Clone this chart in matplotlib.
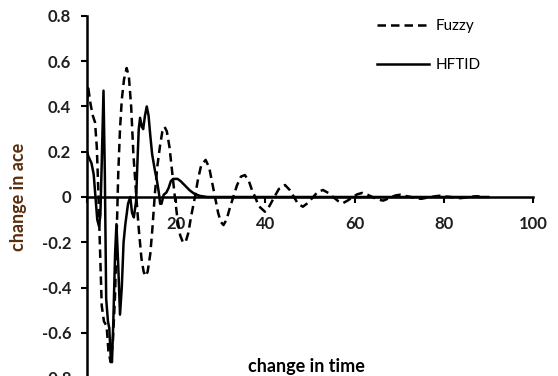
import matplotlib
matplotlib.use('Agg')
import matplotlib.pyplot as plt

# Data
fuzzy_x = [0.0, 0.3, 0.8, 1.3, 1.8, 2.2, 2.5, 2.9, 3.3, 3.8, 4.4, 4.8, 5.3, 5.8, 6.3, 6.7,
           7.0, 7.4, 7.8, 8.3, 8.9, 9.4, 9.9, 10.4, 11.1, 11.6, 12.2, 12.7, 13.1, 13.6, 14.2,
           14.7, 15.2, 15.8, 16.4, 16.9, 17.4, 17.9, 18.5, 19.1, 19.7, 20.3, 20.9, 21.5, 22.1,
           22.7, 23.4, 24.2, 24.9, 25.6, 26.6, 27.4, 28.0, 28.7, 29.4, 30.0, 30.6, 31.3, 32.0,
           32.8, 33.6, 34.5, 35.4, 36.3, 37.0, 37.7, 38.5, 39.9, 40.9, 42.0, 43.0, 44.4, 45.5,
           46.4, 47.3, 48.4, 49.6, 50.7, 51.7, 52.9, 54.1, 55.2, 56.3, 57.4, 58.5, 59.6, 60.6,
           61.7, 62.9, 64.0, 65.2, 66.4, 67.4, 68.3, 69.2, 70.2, 71.4, 72.6, 73.8, 75.0, 76.2,
           77.2, 78.3, 79.4, 80.5, 81.6, 82.7, 83.8, 85.0, 86.0, 87.0, 88.0]
fuzzy_y = [0.42, 0.48, 0.41, 0.36, 0.33, 0.22, 0.05, -0.22, -0.48, -0.55, -0.57, -0.68, -0.73,
           -0.64, -0.43, -0.13, 0.10, 0.30, 0.43, 0.52, 0.57, 0.53, 0.40, 0.19, -0.01, -0.14,
           -0.27, -0.33, -0.35, -0.33, -0.25, -0.13, 0.01, 0.14, 0.23, 0.29, 0.31, 0.29, 0.22,
           0.11, 0.0, -0.10, -0.17, -0.20, -0.20, -0.16, -0.08, 0.0, 0.08, 0.14, 0.164, 0.13,
           0.07, 0.0, -0.07, -0.11, -0.124, -0.10, -0.05, 0.0, 0.05, 0.09, 0.097, 0.07, 0.03,
           0.0, -0.04, -0.065, -0.04, 0.0, 0.035, 0.053, 0.03, 0.0, -0.03, -0.043, -0.025, 0.0,
           0.022, 0.031, 0.018, 0.0, -0.018, -0.027, -0.015, 0.0, 0.012, 0.018, 0.01, 0.0,
           -0.011, -0.016, -0.008, 0.0, 0.007, 0.01, 0.005, 0.0, -0.006, -0.008, -0.003, 0.0,
           0.004, 0.006, 0.002, 0.0, -0.004, -0.005, -0.002, 0.0, 0.003, 0.003]

hftid_x = [0.0, 0.3, 1.0, 1.5, 1.9, 2.3, 2.7, 3.0, 3.3, 3.7, 4.0, 4.3, 4.7, 5.0, 5.3, 5.6,
           5.9, 6.3, 6.6, 7.0, 7.4, 7.8, 8.2, 8.6, 9.2, 9.7, 10.1, 10.5, 11.0, 11.3, 11.6,
           11.9, 12.3, 12.6, 13.0, 13.4, 13.8, 14.2, 14.6, 15.2, 15.7, 16.1, 16.4, 16.7, 17.2,
           17.8, 18.3, 18.8, 19.3, 20.3, 21.0, 22.0, 23.0, 24.0, 25.3, 27.0, 40.0, 60.0, 90.0]
hftid_y = [0.20, 0.18, 0.15, 0.10, 0.0, -0.10, -0.13, -0.08, 0.15, 0.47, 0.10, -0.45, -0.55,
           -0.58, -0.70, -0.73, -0.55, -0.25, -0.12, -0.30, -0.52, -0.40, -0.20, -0.12, -0.03,
           0.0, -0.07, -0.09, -0.02, 0.15, 0.30, 0.35, 0.31, 0.30, 0.36, 0.40, 0.36, 0.27,
           0.19, 0.12, 0.07, 0.02, -0.03, -0.03, 0.01, 0.02, 0.04, 0.07, 0.08, 0.08, 0.07,
           0.05, 0.03, 0.015, 0.005, 0.0, 0.0, 0.0, 0.0]

x_ticks = [0, 20, 40, 60, 80, 100]
x_labels = ['0', '20', '40', '60', '80', '100']
y_ticks = [-0.8, -0.6, -0.4, -0.2, 0, 0.2, 0.4, 0.6, 0.8]
y_labels = ['-0.8', '-0.6', '-0.4', '-0.2', '0', '0.2', '0.4', '0.6', '0.8']

plt.rcParams['font.family'] = ['Lato', 'DejaVu Sans']

W, H = 558, 376
fig = plt.figure(figsize=(W / 100, H / 100), dpi=100)
ax = fig.add_axes([87 / W, 1 - 378 / H, 446 / W, 362 / H])

ax.plot(fuzzy_x, fuzzy_y, color='black', lw=1.8, dashes=(3.4, 2.0), label='Fuzzy')
ax.plot(hftid_x, hftid_y, color='black', lw=1.8, label='HFTID')

ax.set_xlim(0, 100)
ax.set_ylim(-0.8, 0.8)
ax.spines['top'].set_visible(False)
ax.spines['right'].set_visible(False)
ax.spines['bottom'].set_position(('data', 0))
ax.spines['bottom'].set_linewidth(1.8)
ax.spines['left'].set_linewidth(1.8)

ax.set_xticks(x_ticks)
ax.set_xticklabels(x_labels)
ax.set_yticks(y_ticks)
ax.set_yticklabels(y_labels)
ax.get_xticklabels()[0].set_visible(False)
ax.tick_params(axis='x', direction='out', length=4, width=1.5, pad=10,
               labelsize=12, labelcolor='#1f1f1f')
ax.tick_params(axis='y', direction='out', length=4.3, width=1.5, pad=7,
               labelsize=12, labelcolor='#1f1f1f')
for lab in ax.get_xticklabels() + ax.get_yticklabels():
    lab.set_fontweight('bold')

ax.set_ylabel('change in ace', fontweight='bold', color='#5a2d0c', fontsize=13)
ax.yaxis.set_label_coords(-0.1345, 0.5)
ax.set_xlabel('change in time', fontweight='bold', fontsize=13)
ax.xaxis.set_label_coords(0.493, 0.055)

ax.legend(loc='upper left', bbox_to_anchor=(377 / W, 1 - 19 / H),
          bbox_transform=fig.transFigure, frameon=False, fontsize=11,
          handlelength=3.4, labelspacing=1.65, handletextpad=0.45,
          borderpad=0, borderaxespad=0)

fig.savefig('out.png', dpi=100)
